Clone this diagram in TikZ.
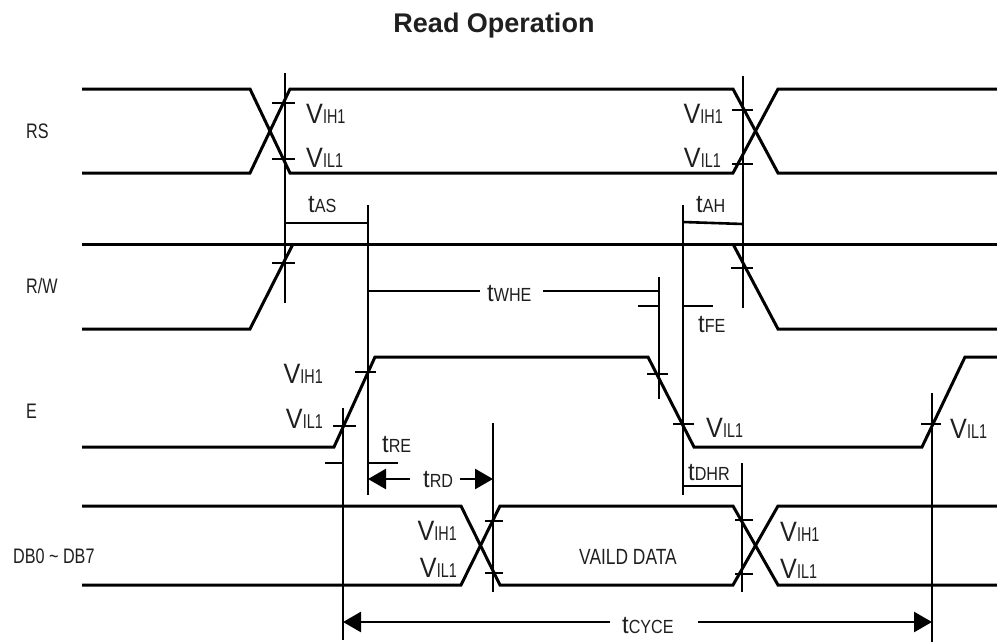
\documentclass[tikz,border=0pt]{standalone}
\usepackage{fontspec}
\usepackage{graphicx}
\setmainfont{Liberation Sans}
\usetikzlibrary{arrows.meta}
\newcommand\VVl[1]{\scalebox{0.9}[1]{\fontsize{28}{28}\selectfont V}\scalebox{0.72}[1]{\fontsize{20}{20}\selectfont #1}}
\newcommand\TTl[1]{\scalebox{0.95}[1]{\fontsize{25}{25}\selectfont t}\scalebox{0.85}[1]{\fontsize{19}{19}\selectfont #1}}
\newcommand\SGl[1]{\scalebox{0.77}[1]{\fontsize{21}{21}\selectfont #1}}
\begin{document}
\begin{tikzpicture}[x=1pt,y=-1pt,
  sig/.style={line width=3pt,line join=miter},
  vline/.style={line width=2.6pt},
  tick/.style={line width=2.6pt},
  dim/.style={line width=2.6pt},
  lbl/.style={inner sep=0pt,text=black!88},
  arr/.style={line width=2.6pt,-{Triangle[length=18pt,width=20pt]}}]
\useasboundingbox (0,0) rectangle (997,643);
% title
\node[lbl,anchor=base] (title) at (494,32) {\fontsize{27}{27}\selectfont\bfseries Read Operation};
% signal names
\node[lbl,anchor=base west] (nRS) at (26,138) {\SGl{RS}};
\node[lbl,anchor=base west] (nRW) at (26,293) {\SGl{R/W}};
\node[lbl,anchor=base west] (nE) at (26,418) {\SGl{E}};
\node[lbl,anchor=base west] (nDB) at (13,563) {\SGl{DB0 \textasciitilde{} DB7}};
% RS
\draw[sig] (82,89) -- (250,89) -- (290,173) -- (733,173) -- (778,89) -- (997,89);
\draw[sig] (82,173) -- (250,173) -- (290,89) -- (733,89) -- (778,173) -- (997,173);
% R/W
\draw[sig] (82,244) -- (997,244);
\draw[sig] (82,329) -- (250,329) -- (293,244);
\draw[sig] (733,244) -- (778,329) -- (997,329);
% E
\draw[sig] (82,447) -- (334,447) -- (375,357) -- (648,357) -- (694,447) -- (922,447) -- (965,357) -- (997,357);
% DB
\draw[sig] (82,506) -- (461,506) -- (500,585) -- (733,585) -- (778,506) -- (997,506);
\draw[sig] (82,585) -- (461,585) -- (500,506) -- (733,506) -- (778,585) -- (997,585);
% vertical reference lines
\draw[vline] (285,73) -- (285,303);
\draw[vline] (743,76) -- (743,308);
\draw[vline] (368,205) -- (368,495);
\draw[vline] (683,205) -- (683,495);
\draw[vline] (659,277) -- (659,399);
\draw[vline] (343,408) -- (343,640);
\draw[vline] (493,423) -- (493,592);
\draw[vline] (742,463) -- (742,592);
\draw[vline] (932,393) -- (932,642);
% ticks
\draw[tick] (272,103) -- (295,103);
\draw[tick] (272,159) -- (295,159);
\draw[tick] (732,110) -- (753,110);
\draw[tick] (732,164) -- (753,164);
\draw[tick] (272,263) -- (295,263);
\draw[tick] (731,268) -- (753,268);
\draw[tick] (355,372) -- (376,372);
\draw[tick] (333,426) -- (356,426);
\draw[tick] (647,374) -- (668,374);
\draw[tick] (673,424) -- (694,424);
\draw[tick] (921,424) -- (941,424);
\draw[tick] (485,521) -- (503,521);
\draw[tick] (485,573) -- (503,573);
\draw[tick] (735,520) -- (753,520);
\draw[tick] (735,574) -- (753,574);
% dimension lines
\draw[dim] (285,223) -- (368,223);
\draw[dim] (683,222) -- (743,224);
\draw[dim] (368,291) -- (480,291);
\draw[dim] (543,291) -- (659,291);
\draw[dim] (638,306) -- (659,306);
\draw[dim] (683,306) -- (713,306);
\draw[dim] (325,463) -- (343,463);
\draw[dim] (368,463) -- (398,463);
\draw[dim] (683,486) -- (742,486);
\draw[arr] (410,479) -- (368,479);
\draw[arr] (460,479) -- (493,479);
\draw[arr] (610,622) -- (343,622);
\draw[arr] (698,622) -- (932,622);
% timing labels
\node[lbl,anchor=base west] (tAS) at (308,212) {\TTl{AS}};
\node[lbl,anchor=base west] (tAH) at (696,212) {\TTl{AH}};
\node[lbl,anchor=base west] (tWHE) at (487,301) {\TTl{WHE}};
\node[lbl,anchor=base west] (tFE) at (698,332) {\TTl{FE}};
\node[lbl,anchor=base west] (tRE) at (382,452) {\TTl{RE}};
\node[lbl,anchor=base west] (tRD) at (423,487) {\TTl{RD}};
\node[lbl,anchor=base west] (tDHR) at (688,480) {\TTl{DHR}};
\node[lbl,anchor=base west] (tCYCE) at (622,633) {\TTl{CYCE}};
% voltage labels
\node[lbl,anchor=base west] (v1) at (306,123) {\VVl{IH1}};
\node[lbl,anchor=base west] (v2) at (306,167) {\VVl{IL1}};
\node[lbl,anchor=base east] (v3) at (723,123) {\VVl{IH1}};
\node[lbl,anchor=base east] (v4) at (721,167) {\VVl{IL1}};
\node[lbl,anchor=base east] (v5) at (323,383) {\VVl{IH1}};
\node[lbl,anchor=base east] (v6) at (323,428) {\VVl{IL1}};
\node[lbl,anchor=base west] (v7) at (706,437) {\VVl{IL1}};
\node[lbl,anchor=base west] (v8) at (950,438) {\VVl{IL1}};
\node[lbl,anchor=base east] (v9) at (457,540) {\VVl{IH1}};
\node[lbl,anchor=base east] (v10) at (457,577) {\VVl{IL1}};
\node[lbl,anchor=base west] (v11) at (780,541) {\VVl{IH1}};
\node[lbl,anchor=base west] (v12) at (780,578) {\VVl{IL1}};
% data label
\node[lbl] (valid) at (628,557) {\scalebox{0.79}[1]{\fontsize{22}{22}\selectfont VAILD DATA}};
\end{tikzpicture}
\end{document}
